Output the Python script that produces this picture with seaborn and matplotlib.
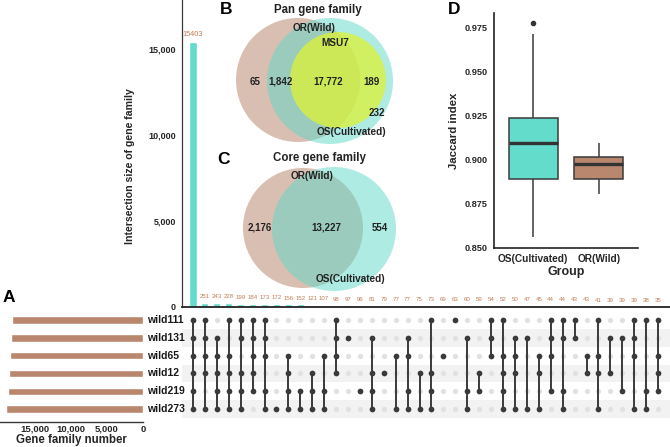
import numpy as np
import pandas as pd
import matplotlib
matplotlib.use('Agg')
import matplotlib.pyplot as plt
import seaborn as sns
from matplotlib.patches import Circle
from matplotlib.transforms import blended_transform_factory

# ---- data ----
sets = ['wild111', 'wild131', 'wild65', 'wild12', 'wild219', 'wild273']
set_sizes = [18190, 18380, 18540, 18580, 18700, 19030]

inter_sizes = [15403, 251, 243, 228, 199, 184, 173, 172, 156, 152,
               121, 107, 98, 97, 96, 81, 79, 77, 77, 75,
               73, 69, 63, 60, 59, 54, 52, 50, 47, 45,
               44, 44, 43, 43, 41, 39, 39, 39, 38, 35]
# set membership per intersection (0 = wild111 ... 5 = wild273)
inter_members = [
    [0, 1, 2, 3, 4, 5], [0, 1, 2, 3, 5], [1, 2, 3, 4, 5], [0, 2, 3, 4, 5],
    [0, 1, 3, 4, 5], [0, 1, 2, 3, 4], [0, 1, 2, 4, 5], [5], [2, 3, 4, 5], [4, 5],
    [3, 4, 5], [2, 4, 5], [0, 1, 2, 3], [1], [4], [1, 3, 4, 5], [3], [2, 5],
    [1, 2, 4, 5], [3, 5], [0, 3, 4, 5], [2], [0], [1, 4, 5], [3, 4], [0, 1, 2],
    [0, 2, 3, 4, 5], [1, 2, 3, 5], [1, 5], [2, 3, 5], [0, 1, 2, 4], [0, 1, 4, 5],
    [0, 1], [2, 3], [0, 2, 3, 5], [1, 3], [1, 4], [0, 1, 2, 5], [0, 4, 5], [0, 2, 3, 4],
]

pan_labels = ['65', '1,842', '17,772', '189', '232']
core_labels = ['2,176', '13,227', '554']

groups = ['OS(Cultivated)', 'OR(Wild)']
jaccard_os = [0.8557, 0.8700, 0.8888, 0.9000, 0.9097, 0.9180, 0.9239, 0.9716, 0.9778]
jaccard_or = [0.8807, 0.8850, 0.8888, 0.8930, 0.8977, 0.9000, 0.9015, 0.9060, 0.9097]

# ---- style ----
sns.set_style('white')
plt.rcParams['font.family'] = ['Liberation Sans', 'DejaVu Sans']
plt.rcParams['font.weight'] = 'bold'

teal = '#63DCCB'
brown = '#B9876E'
lab_col = '#C27E58'
dark = '#3A3A3A'

W, H = 670, 447
fig = plt.figure(figsize=(W / 100, H / 100), dpi=100)


def px_axes(x0, y0, x1, y1):
    return fig.add_axes([x0 / W, 1 - y1 / H, (x1 - x0) / W, (y1 - y0) / H])


n = len(inter_sizes)
xl = (-0.92, n)

# intersection bars
ax_bar = px_axes(182, 0, 670, 307)
sns.barplot(x=list(range(n)), y=inter_sizes, color=teal, width=0.6,
            saturation=1, ax=ax_bar)
ax_bar.set_xlim(*xl)
ax_bar.set_ylim(0, 17850)
for i, v in enumerate(inter_sizes):
    ax_bar.text(i, v + 220, str(v), ha='center', va='bottom',
                fontsize=5.3 if i == 0 else 4.4, color=lab_col, fontweight='normal')
ax_bar.set_xticks([])
ax_bar.set_yticks([0, 5000, 10000, 15000])
ax_bar.set_yticklabels(['0', '5,000', '10,000', '15,000'], fontsize=6.5, fontweight='bold')
ax_bar.tick_params(axis='y', length=3, width=0.8, pad=1.5, color=dark)
ax_bar.set_ylabel('Intersection size of gene family', fontsize=7.6, fontweight='bold')
ax_bar.yaxis.set_label_coords((135 - 182) / 488, 0.46)
sns.despine(ax=ax_bar)
ax_bar.spines['left'].set_linewidth(0.9)
ax_bar.spines['bottom'].set_linewidth(1.3)
ax_bar.spines['left'].set_color(dark)
ax_bar.spines['bottom'].set_color('#222222')
ax_bar.patch.set_alpha(0)

# matrix
ax_mat = px_axes(182, 311, 670, 418)
ax_mat.set_xlim(*xl)
ax_mat.set_ylim(len(sets) - 0.5, -0.5)
for r in (1, 3, 5):
    ax_mat.axhspan(r - 0.5, r + 0.5, color='#F2F2F2', lw=0, zorder=0)
grid = pd.DataFrame([(c, r, r in inter_members[c]) for c in range(n) for r in range(len(sets))],
                    columns=['col', 'row', 'hit'])
sns.scatterplot(data=grid[~grid.hit], x='col', y='row', color='#E1E1E1', s=14,
                linewidth=0, ax=ax_mat, zorder=2)
for c, mem in enumerate(inter_members):
    if len(mem) > 1:
        ax_mat.vlines(c, min(mem), max(mem), color=dark, lw=1.4, zorder=3)
sns.scatterplot(data=grid[grid.hit], x='col', y='row', color=dark, s=17,
                linewidth=0, ax=ax_mat, zorder=4)
ax_mat.set_xlim(*xl)
ax_mat.set_ylim(len(sets) - 0.5, -0.5)
ax_mat.axis('off')
tr = blended_transform_factory(ax_mat.transAxes, ax_mat.transData)
for r, s in enumerate(sets):
    ax_mat.text((147 - 182) / 488, r, s, transform=tr, ha='left', va='center',
                fontsize=7.5, fontweight='bold', color='#1a1a1a')

# set sizes
ax_set = px_axes(0, 311, 143, 422)
sns.barplot(x=set_sizes, y=sets, orient='h', color=brown, width=0.42,
            saturation=1, ax=ax_set)
ax_set.set_xlim(19860, 0)
ax_set.set_ylim(len(sets) - 0.28, -0.5)
ax_set.set_yticks([])
ax_set.set_xticks([15000, 10000, 5000, 0])
ax_set.set_xticklabels(['15,000', '10,000', '5,000', '0'], fontsize=6.8, fontweight='bold')
ax_set.tick_params(axis='x', length=1.5, width=0.8, pad=0.5, color=dark)
ax_set.set_xlabel('Gene family number', fontsize=8.3, fontweight='bold', labelpad=0)
ax_set.set_ylabel('')
for sp in ('left', 'right', 'top'):
    ax_set.spines[sp].set_visible(False)
ax_set.spines['bottom'].set_linewidth(1)
ax_set.spines['bottom'].set_color(dark)
ax_set.patch.set_alpha(0)

# boxplot D
ax_box = px_axes(494, 13, 638, 248)
box_df = pd.DataFrame({'Group': [groups[0]] * len(jaccard_os) + [groups[1]] * len(jaccard_or),
                       'Jaccard index': jaccard_os + jaccard_or})
sns.boxplot(data=box_df, x='Group', y='Jaccard index', hue='Group', order=groups,
            palette=[teal, brown], width=0.75, linecolor=dark, linewidth=1.1,
            saturation=1, legend=False, ax=ax_box,
            medianprops={'linewidth': 2.4, 'color': '#333333'},
            flierprops={'marker': 'o', 'markerfacecolor': '#333333',
                        'markeredgecolor': '#333333', 'markersize': 3},
            capprops={'visible': False})
ax_box.set_xlim(-0.6, 1.6)
ax_box.set_ylim(0.8497, 0.9834)
ax_box.set_yticks([0.850, 0.875, 0.900, 0.925, 0.950, 0.975])
ax_box.set_yticklabels(['0.850', '0.875', '0.900', '0.925', '0.950', '0.975'],
                       fontsize=6.6, fontweight='bold')
ax_box.set_xticks([0, 1])
ax_box.set_xticklabels(groups, fontsize=7.3, fontweight='bold')
ax_box.tick_params(length=3, width=0.8, pad=1.5, color=dark)
ax_box.set_xlabel('Group', fontsize=9, fontweight='bold', labelpad=1)
ax_box.set_ylabel('Jaccard index', fontsize=8.2, fontweight='bold', labelpad=4)
sns.despine(ax=ax_box)
for sp in ('left', 'bottom'):
    ax_box.spines[sp].set_linewidth(1.2)
    ax_box.spines[sp].set_color('#222222')
ax_box.patch.set_alpha(0)

# Venn diagrams (overlay in pixel coordinates)
ov = px_axes(0, 0, W, H)
ov.set_xlim(0, W)
ov.set_ylim(H, 0)
ov.axis('off')
ov.patch.set_alpha(0)

vc_brown = '#B98B73'
vc_teal = '#5FD8C8'
vc_yel = '#DDF235'
ov.add_patch(Circle((298, 80), 62, color=vc_brown, alpha=0.55, lw=0))
ov.add_patch(Circle((330, 81), 63, color=vc_teal, alpha=0.5, lw=0))
ov.add_patch(Circle((338, 80), 48, color=vc_yel, alpha=0.75, lw=0))
ov.add_patch(Circle((303, 228), 60, color=vc_brown, alpha=0.55, lw=0))
ov.add_patch(Circle((334, 229), 62, color=vc_teal, alpha=0.5, lw=0))

txt = dict(ha='center', va='center', fontweight='bold', color='#222222')
ov.text(318, 10, 'Pan gene family', fontsize=8.3, **txt)
ov.text(314, 28, 'OR(Wild)', fontsize=7.2, **txt)
ov.text(335, 43, 'MSU7', fontsize=7.2, **txt)
for (x, y), s in zip([(255, 82), (281, 82), (328, 82), (371, 82), (377, 113)], pan_labels):
    ov.text(x, y, s, fontsize=7, **txt)
ov.text(351, 132, 'OS(Cultivated)', fontsize=7.2, **txt)

ov.text(319, 158, 'Core gene family', fontsize=8.3, **txt)
ov.text(312, 176, 'OR(Wild)', fontsize=7.2, **txt)
for (x, y), s in zip([(260, 228), (326, 228), (380, 228)], core_labels):
    ov.text(x, y, s, fontsize=7, **txt)
ov.text(350, 279, 'OS(Cultivated)', fontsize=7.2, **txt)

for (x, y), s in zip([(9, 297), (226, 10), (224, 159), (454, 10)], 'ABCD'):
    ov.text(x, y, s, fontsize=12.5, ha='center', va='center', fontweight='bold', color='black')

fig.savefig('out.png', dpi=100)
